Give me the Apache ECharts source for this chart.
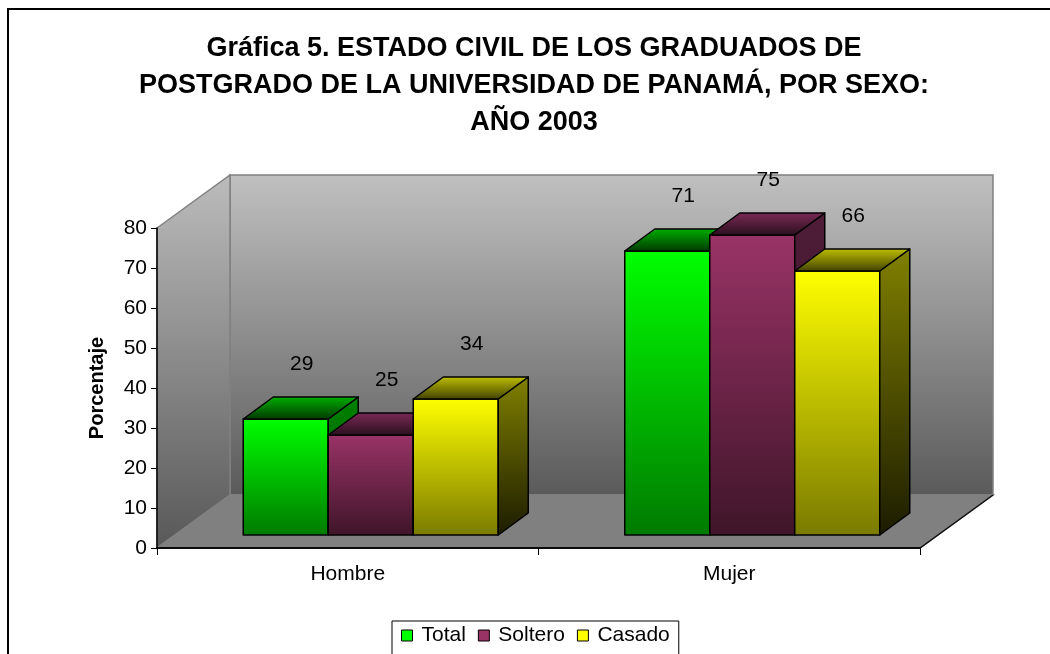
<!DOCTYPE html>
<html>
<head>
<meta charset="utf-8">
<script src="https://cdn.jsdelivr.net/npm/echarts@6/dist/echarts.min.js"></script>
<style>
  html, body { margin: 0; padding: 0; background: #fff; }
  #chart { width: 1050px; height: 654px; }
</style>
</head>
<body>
<div id="chart"></div>
<script>
// datos de la gráfica
const categories = ['Hombre', 'Mujer'];
const seriesNames = ['Total', 'Soltero', 'Casado'];
const totalValues = [29, 71];
const solteroValues = [25, 75];
const casadoValues = [34, 66];
const yMin = 0, yMax = 80, yStep = 10;

const FONT = 'Liberation Sans, Arial, sans-serif';

// profundidad de la "caja" 3D (px)
const DEPTH_X = 73, DEPTH_Y = 53;
// plano frontal de las barras y su profundidad
const FRONT_DX = 23, FRONT_DY = 13;
const BAR_DX = 30, BAR_DY = 22;
const BAR_RATIO = 0.2228;

function grad(top, bottom) {
    return new echarts.graphic.LinearGradient(0, 0, 0, 1, [
        { offset: 0, color: top },
        { offset: 1, color: bottom }
    ]);
}

// colores de cada cara: frente, lado, tapa
const faces = [
    { front: ['#00ff00', '#007a00'], side: ['#008000', '#006000'], top: ['#00b000', '#003800'] },
    { front: ['#993366', '#3f1529'], side: ['#4e1c37', '#3a1428'], top: ['#7a2a55', '#2a0f1e'] },
    { front: ['#ffff00', '#7a7a00'], side: ['#808000', '#1c1c00'], top: ['#c0c000', '#404000'] }
];

const stroke = { stroke: '#000', lineWidth: 1.5, lineJoin: 'round' };

function barRender(sIdx) {
    return function (params, api) {
        const cat = api.value(0), v = api.value(1);
        const p0 = api.coord([cat, 0]);
        const p1 = api.coord([cat, v]);
        const w = api.size([1, 0])[0] * BAR_RATIO;
        const x0 = p0[0] + FRONT_DX + (sIdx - 1.5) * w;
        const x1 = x0 + w;
        const yb = p0[1] - FRONT_DY, yt = p1[1] - FRONT_DY;
        const f = faces[sIdx];
        return {
            type: 'group',
            children: [
                {
                    type: 'polygon',
                    shape: { points: [[x0, yt], [x1, yt], [x1, yb], [x0, yb]] },
                    style: Object.assign({ fill: grad(f.front[0], f.front[1]) }, stroke)
                },
                {
                    type: 'polygon',
                    shape: { points: [[x1, yt], [x1 + BAR_DX, yt - BAR_DY], [x1 + BAR_DX, yb - BAR_DY], [x1, yb]] },
                    style: Object.assign({ fill: grad(f.side[0], f.side[1]) }, stroke)
                },
                {
                    type: 'polygon',
                    shape: { points: [[x0, yt], [x0 + BAR_DX, yt - BAR_DY], [x1 + BAR_DX, yt - BAR_DY], [x1, yt]] },
                    style: Object.assign({ fill: grad(f.top[0], f.top[1]) }, stroke)
                },
                {
                    type: 'text',
                    style: {
                        text: String(v),
                        x: (x0 + x1) / 2 + 16,
                        y: yt - 55,
                        align: 'center',
                        verticalAlign: 'middle',
                        fill: '#000',
                        font: '21px ' + FONT
                    }
                }
            ]
        };
    };
}

// paredes y piso de la caja
function wallsRender(params, api) {
    const cs = params.coordSys;
    const l = cs.x, r = cs.x + cs.width, t = cs.y, b = cs.y + cs.height;
    const wallStroke = { stroke: '#808080', lineWidth: 1.5 };
    return {
        type: 'group',
        silent: true,
        children: [
            {
                type: 'polygon',
                shape: { points: [[l + DEPTH_X, t - DEPTH_Y], [r + DEPTH_X, t - DEPTH_Y], [r + DEPTH_X, b - DEPTH_Y], [l + DEPTH_X, b - DEPTH_Y]] },
                style: Object.assign({ fill: grad('#c0c0c0', '#5a5a5a') }, wallStroke)
            },
            {
                type: 'polygon',
                shape: { points: [[l, t], [l + DEPTH_X, t - DEPTH_Y], [l + DEPTH_X, b - DEPTH_Y], [l, b]] },
                style: Object.assign({ fill: grad('#bcbcbc', '#585858') }, wallStroke)
            },
            {
                type: 'polygon',
                shape: { points: [[l, b], [r, b], [r + DEPTH_X, b - DEPTH_Y], [l + DEPTH_X, b - DEPTH_Y]] },
                style: Object.assign({ fill: '#808080' }, wallStroke)
            },
            {
                type: 'polyline',
                shape: { points: [[l, b], [r, b], [r + DEPTH_X, b - DEPTH_Y]] },
                style: { stroke: '#111', lineWidth: 1.5, fill: null }
            }
        ]
    };
}

const valueLists = [totalValues, solteroValues, casadoValues];
const flatColors = ['#00ff00', '#993366', '#ffff00'];

const series = [{
    type: 'custom',
    name: 'walls',
    renderItem: wallsRender,
    data: [[0, 0]],
    silent: true,
    z: 1
}];
valueLists.forEach(function (vals, i) {
    series.push({
        type: 'custom',
        name: seriesNames[i],
        renderItem: barRender(i),
        itemStyle: { color: flatColors[i], borderColor: '#000', borderWidth: 1 },
        data: vals.map(function (v, j) { return [j, v]; }),
        z: 3
    });
});

const chart = echarts.init(document.getElementById('chart'));
chart.setOption({
    animation: false,
    title: {
        text: 'Gráfica 5. ESTADO CIVIL DE LOS GRADUADOS DE\nPOSTGRADO DE LA UNIVERSIDAD DE PANAMÁ, POR SEXO:\nAÑO 2003',
        left: 534,
        textAlign: 'center',
        top: 30,
        padding: 0,
        textStyle: {
            fontFamily: FONT,
            fontWeight: 'bold',
            fontSize: 27,
            lineHeight: 37,
            color: '#000'
        }
    },
    graphic: [{
        type: 'rect',
        shape: { x: 8, y: 9, width: 1100, height: 700 },
        style: { fill: null, stroke: '#000', lineWidth: 2 },
        silent: true,
        z: -1
    }],
    legend: {
        data: seriesNames,
        left: 392,
        top: 621,
        icon: 'rect',
        itemWidth: 11,
        itemHeight: 11,
        itemGap: 12,
        padding: [4, 9, 12, 9],
        borderColor: '#000',
        borderWidth: 1,
        itemStyle: { borderColor: '#000', borderWidth: 1 },
        textStyle: { fontFamily: FONT, fontSize: 21, color: '#000', padding: [0, 0, 0, 4] }
    },
    grid: { left: 157, top: 228, width: 763, height: 320, containLabel: false },
    xAxis: {
        type: 'category',
        data: categories,
        z: 5,
        axisLine: { lineStyle: { color: '#000', width: 1.5 } },
        axisTick: { show: true, length: 7, lineStyle: { color: '#000' } },
        axisLabel: { fontFamily: FONT, fontSize: 21, color: '#000', margin: 16 }
    },
    yAxis: {
        type: 'value',
        min: yMin,
        max: yMax,
        interval: yStep,
        z: 5,
        name: 'Porcentaje',
        nameLocation: 'middle',
        nameGap: 50,
        nameRotate: 90,
        nameTextStyle: { fontFamily: FONT, fontSize: 20, fontWeight: 'bold', color: '#000' },
        axisLine: { show: true, lineStyle: { color: '#000', width: 1.5 } },
        axisTick: { show: true, length: 6, lineStyle: { color: '#000' } },
        axisLabel: { fontFamily: FONT, fontSize: 21, color: '#000', margin: 10 },
        splitLine: { show: false }
    },
    series: series
});
window.onresize = chart.resize;
</script>
</body>
</html>
